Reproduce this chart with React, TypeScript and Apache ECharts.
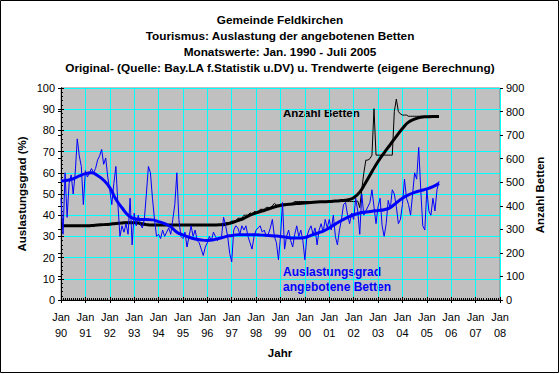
import React, { useEffect, useRef } from "react";
import * as echarts from "echarts";

// Monthly occupancy (%), Jan 1990 .. Jul 2005
const occ1990 = [48, 31, 60, 39, 55, 59, 50, 60, 76, 68, 63, 45];
const occ1991 = [61, 58, 60, 62, 60, 62, 66, 68, 71, 64, 67, 58];
const occ1992 = [52, 45, 55, 63, 45, 30, 35, 32, 36, 31, 48, 26];
const occ1993 = [41, 35, 40, 36, 34, 38, 50, 63, 60, 48, 38, 30];
const occ1994 = [31, 29, 33, 30, 32, 34, 31, 38, 45, 60, 38, 30];
const occ1995 = [29, 32, 25, 30, 35, 30, 33, 28, 27, 24, 21, 25];
const occ1996 = [27, 30, 28, 32, 30, 28, 29, 30, 39, 35, 30, 22];
const occ1997 = [18, 33, 35, 34, 31, 35, 33, 35, 30, 27, 24, 30];
const occ1998 = [33, 34, 35, 32, 33, 30, 31, 34, 38, 30, 27, 19];
const occ1999 = [30, 46, 24, 30, 33, 28, 25, 31, 35, 30, 33, 28];
const occ2000 = [19, 30, 33, 35, 31, 34, 26, 33, 36, 32, 38, 34];
const occ2001 = [38, 33, 40, 30, 26, 33, 38, 45, 46, 40, 36, 41];
const occ2002 = [38, 48, 42, 31, 50, 40, 42, 44, 46, 52, 44, 36];
const occ2003 = [44, 48, 35, 30, 36, 47, 43, 52, 50, 44, 36, 38];
const occ2004 = [45, 57, 48, 45, 40, 50, 60, 57, 72, 52, 35, 33];
const occ2005 = [52, 42, 40, 48, 42, 52, 56];

// Occupancy trend (%), one value per quarter (month 0, 3, 6, ... 186)
const occTrend = [
  56.1, 56.5, 57.2, 58.5, 59.6, 60, 58.7, 56.5, 53, 47.5, 43.5, 40, 38.3, 38, 38,
  37.8, 37, 36, 34.5, 32, 30.7, 29.6, 28.8, 28.3, 28.1, 28.4, 29.1, 29.9, 30.4, 30.8,
  30.8, 30.8, 30.8, 30.6, 30.4, 30.2, 30, 29.6, 29.2, 29.2, 29.5, 30.5, 31.5, 32.5,
  34, 35.8, 37.5, 39, 40.2, 41, 41.5, 41.9, 42.2, 42.6, 43.6, 45.8, 48, 49.6, 50.8,
  51.6, 52.4, 53.5, 55,
];

// Number of beds, monthly
const beds1990 = [315, 315, 315, 315, 315, 315, 315, 315, 315, 315, 315, 315];
const beds1991 = [315, 315, 315, 315, 315, 320, 320, 320, 320, 320, 320, 320];
const beds1992 = [320, 325, 325, 325, 325, 325, 325, 330, 330, 330, 330, 330];
const beds1993 = [330, 330, 330, 318, 318, 318, 318, 318, 318, 318, 318, 318];
const beds1994 = [318, 318, 318, 318, 318, 318, 318, 318, 318, 318, 318, 318];
const beds1995 = [318, 318, 318, 318, 318, 318, 318, 318, 318, 318, 318, 318];
const beds1996 = [318, 318, 318, 318, 318, 318, 320, 320, 320, 328, 328, 328];
const beds1997 = [335, 335, 335, 347, 347, 347, 360, 360, 360, 370, 365, 375];
const beds1998 = [375, 375, 385, 385, 385, 393, 393, 393, 400, 410, 403, 403];
const beds1999 = [407, 407, 407, 407, 407, 407, 412, 418, 418, 418, 418, 418];
const beds2000 = [418, 418, 418, 418, 418, 418, 418, 418, 418, 418, 418, 418];
const beds2001 = [418, 418, 418, 418, 418, 418, 418, 418, 418, 418, 418, 418];
const beds2002 = [418, 418, 420, 392, 470, 540, 594, 594, 600, 615, 812, 615];
const beds2003 = [615, 615, 615, 615, 615, 615, 615, 615, 800, 853, 800, 790];
const beds2004 = [785, 785, 785, 780, 780, 780, 780, 780, 780, 780, 780, 780];
const beds2005 = [780, 780, 780, 780, 780, 780, 780];

// Beds trend, one value per quarter (month 0, 3, ... 186)
const bedsTrend = [
  315, 315, 315, 315, 315, 316, 318, 320, 322, 325, 327, 328, 328, 325, 320, 318,
  318, 318, 318, 318, 318, 318, 318, 318, 318, 318, 319, 322, 328, 337, 347, 360,
  370, 378, 386, 395, 401, 405, 408, 410, 412, 414, 416, 417, 418, 420, 422, 425,
  434, 458, 500, 545, 588, 625, 660, 695, 728, 755, 768, 776, 778, 779, 779,
];

const yearLabels = ["90", "91", "92", "93", "94", "95", "96", "97", "98", "99", "00", "01", "02", "03", "04", "05", "06", "07", "08"];
const titleLines = [
  "Gemeinde Feldkirchen",
  "Tourismus: Auslastung der angebotenen Betten",
  "Monatswerte: Jan. 1990 - Juli 2005",
  "Original- (Quelle: Bay.LA f.Statistik u.DV) u. Trendwerte (eigene Berechnung)",
];

const occMonthly = [
  ...occ1990, ...occ1991, ...occ1992, ...occ1993, ...occ1994, ...occ1995, ...occ1996, ...occ1997,
  ...occ1998, ...occ1999, ...occ2000, ...occ2001, ...occ2002, ...occ2003, ...occ2004, ...occ2005,
];
const bedsMonthly = [
  ...beds1990, ...beds1991, ...beds1992, ...beds1993, ...beds1994, ...beds1995, ...beds1996, ...beds1997,
  ...beds1998, ...beds1999, ...beds2000, ...beds2001, ...beds2002, ...beds2003, ...beds2004, ...beds2005,
];

const FONT = "'Liberation Sans', Arial, sans-serif";
const BLUE = "#0000FF";

export default function App() {
  const ref = useRef<HTMLDivElement>(null);
  useEffect(() => {
    if (!ref.current) return;
    const chart = echarts.init(ref.current, null, { renderer: "svg" });
    const titleTexts = titleLines.map((t, i) => ({
      type: "text",
      x: 280,
      y: 20 + i * 16,
      style: {
        text: t,
        fill: "#000",
        font: `bold 11.8px ${FONT}`,
        textAlign: "center",
        textVerticalAlign: "middle",
      },
    }));
    const black = { color: "#000" };
    chart.setOption({
      animation: false,
      backgroundColor: "#fff",
      textStyle: { fontFamily: FONT },
      grid: {
        left: 61,
        right: 60,
        top: 88,
        bottom: 74,
        show: true,
        backgroundColor: "#C0C0C0",
        borderColor: "#808080",
        borderWidth: 1,
      },
      xAxis: [
        {
          type: "value",
          min: 0,
          max: 216,
          interval: 12,
          axisLine: { show: true, onZero: false, lineStyle: black },
          axisTick: { show: true, inside: true, length: 3, lineStyle: black },
          minorTick: { show: true, splitNumber: 12, length: 2, lineStyle: black },
          splitLine: { show: true, lineStyle: { color: "#00FFFF", width: 1 } },
          axisLabel: {
            color: "#000",
            fontSize: 11,
            fontFamily: FONT,
            lineHeight: 16,
            margin: 9,
            formatter: (v: number) => "Jan\n" + yearLabels[Math.round(v / 12)],
          },
        },
        {
          type: "value",
          min: 0,
          max: 216,
          interval: 12,
          position: "bottom",
          axisLine: { show: false, onZero: false },
          axisTick: { show: true, length: 3, lineStyle: black },
          splitLine: { show: false },
          axisLabel: { show: false },
        },
      ],
      yAxis: [
        {
          type: "value",
          min: 0,
          max: 100,
          interval: 10,
          axisLine: { show: true, lineStyle: black },
          axisTick: { show: true, inside: true, length: 3, lineStyle: black },
          minorTick: { show: true, splitNumber: 5, length: 2, lineStyle: black },
          splitLine: { show: true, lineStyle: { color: "#00FFFF", width: 1 } },
          axisLabel: { color: "#000", fontSize: 11, fontFamily: FONT, margin: 6 },
        },
        {
          type: "value",
          min: 0,
          max: 900,
          interval: 100,
          position: "right",
          axisLine: { show: true, lineStyle: black },
          axisTick: { show: true, inside: true, length: 3, lineStyle: black },
          splitLine: { show: false },
          axisLabel: { color: "#000", fontSize: 11, fontFamily: FONT, margin: 6 },
        },
        {
          type: "value",
          min: 0,
          max: 100,
          interval: 10,
          position: "left",
          axisLine: { show: false },
          axisTick: { show: true, length: 3, lineStyle: black },
          splitLine: { show: false },
          axisLabel: { show: false },
        },
        {
          type: "value",
          min: 0,
          max: 900,
          interval: 100,
          position: "right",
          axisLine: { show: false },
          axisTick: { show: true, length: 3, lineStyle: black },
          splitLine: { show: false },
          axisLabel: { show: false },
        },
      ],
      series: [
        {
          name: "Betten",
          type: "line",
          yAxisIndex: 1,
          data: bedsMonthly.map((v, i) => [i, v]),
          showSymbol: false,
          lineStyle: { color: "#000", width: 1 },
        },
        {
          name: "Betten Trend",
          type: "line",
          yAxisIndex: 1,
          smooth: true,
          data: bedsTrend.map((v, i) => [i * 3, v]),
          showSymbol: false,
          lineStyle: { color: "#000", width: 3 },
        },
        {
          name: "Auslastung",
          type: "line",
          yAxisIndex: 0,
          data: occMonthly.map((v, i) => [i, v]),
          showSymbol: false,
          lineStyle: { color: BLUE, width: 1 },
        },
        {
          name: "Auslastung Trend",
          type: "line",
          yAxisIndex: 0,
          smooth: true,
          data: occTrend.map((v, i) => [i * 3, v]),
          showSymbol: false,
          lineStyle: { color: BLUE, width: 3 },
        },
      ],
      graphic: [
        {
          type: "rect",
          silent: true,
          shape: { x: 0.5, y: 0.5, width: 558, height: 372 },
          style: { fill: "none", stroke: "#000", lineWidth: 1 },
        },
        ...titleTexts,
        {
          type: "text",
          x: 22,
          y: 194,
          rotation: Math.PI / 2,
          style: {
            text: "Auslastungsgrad (%)",
            fill: "#000",
            font: `bold 11.5px ${FONT}`,
            textAlign: "center",
            textVerticalAlign: "middle",
          },
        },
        {
          type: "text",
          x: 540,
          y: 195,
          rotation: Math.PI / 2,
          style: {
            text: "Anzahl Betten",
            fill: "#000",
            font: `bold 11.5px ${FONT}`,
            textAlign: "center",
            textVerticalAlign: "middle",
          },
        },
        {
          type: "text",
          x: 280,
          y: 353,
          style: {
            text: "Jahr",
            fill: "#000",
            font: `bold 11.5px ${FONT}`,
            textAlign: "center",
            textVerticalAlign: "middle",
          },
        },
        {
          type: "text",
          x: 283,
          y: 113,
          style: {
            text: "Anzahl Betten",
            fill: "#000",
            font: `bold 11.5px ${FONT}`,
            textAlign: "left",
            textVerticalAlign: "middle",
          },
        },
        {
          type: "text",
          x: 283,
          y: 272,
          style: {
            text: "Auslastungsgrad",
            fill: BLUE,
            font: `bold 12px ${FONT}`,
            textAlign: "left",
            textVerticalAlign: "middle",
          },
        },
        {
          type: "text",
          x: 283,
          y: 287,
          style: {
            text: "angebotene Betten",
            fill: BLUE,
            font: `bold 12px ${FONT}`,
            textAlign: "left",
            textVerticalAlign: "middle",
          },
        },
      ],
    });
    return () => chart.dispose();
  }, []);
  return (
    <div
      ref={ref}
      style={{ position: "fixed", left: 0, top: 0, width: 560, height: 374 }}
    />
  );
}
